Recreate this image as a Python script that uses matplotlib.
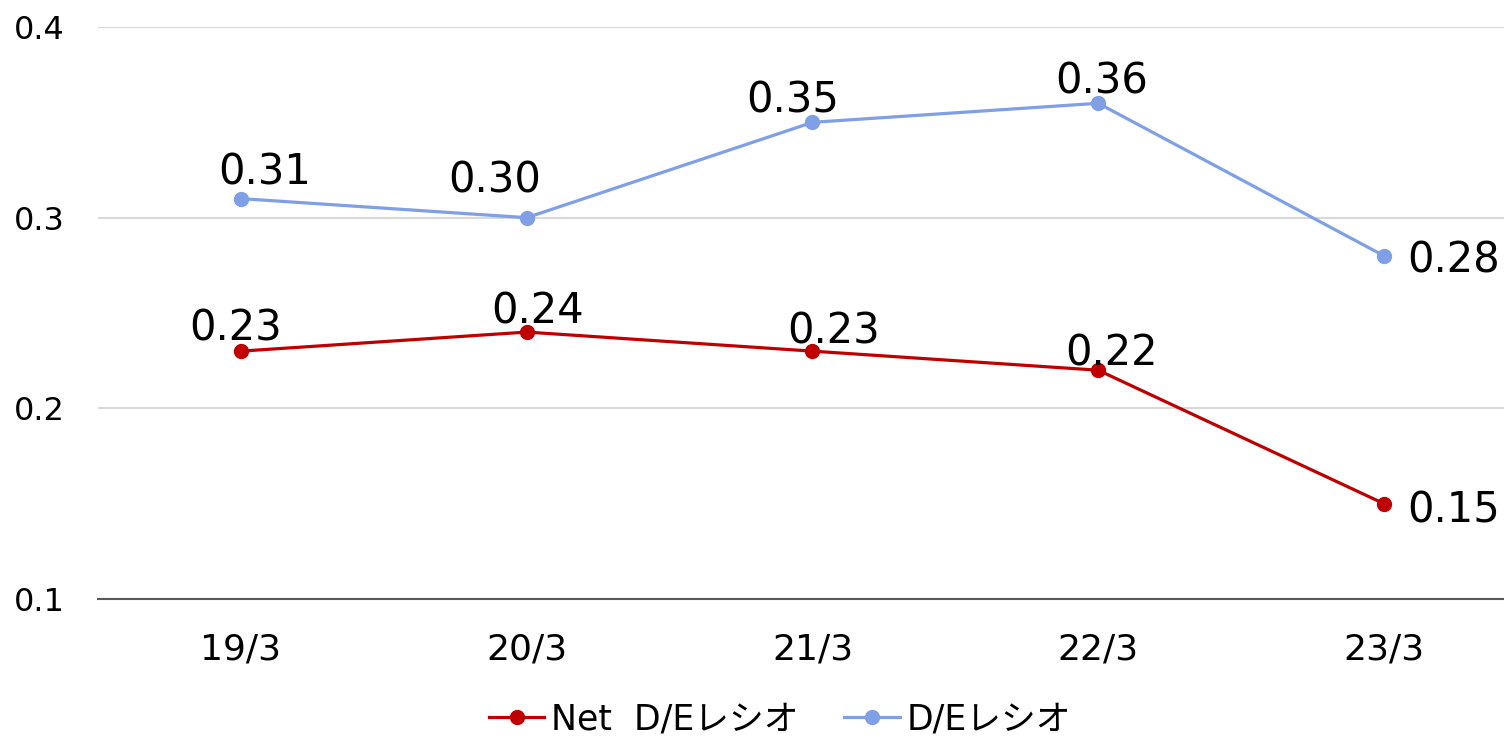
import matplotlib.pyplot as plt

plt.rcParams["font.family"] = ["DejaVu Sans", "Noto Sans CJK JP"]

periods = ["19/3", "20/3", "21/3", "22/3", "23/3"]
net_de_ratio = [0.23, 0.24, 0.23, 0.22, 0.15]
de_ratio = [0.31, 0.30, 0.35, 0.36, 0.28]
y_ticks = [0.1, 0.2, 0.3, 0.4]

# hand-placed label nudges (pixels: right, up to baseline)
net_label_shift = [(-5, 11), (11, 9), (21, 8), (13, 5), (23, -19)]
de_label_shift = [(24, 14), (-32, 25), (-20, 10), (3, 10), (23, -17)]

RED = "#C00000"
BLUE = "#7F9FE6"
DPI = 100


def draw_series(ax, x, values, color, label, shifts):
    ax.plot(x, values, color=color, lw=2.3, marker="o", ms=10,
            label=label, zorder=3)
    for i, v in enumerate(values):
        dx, dy = shifts[i]
        last = i == len(values) - 1
        ax.annotate(f"{v:.2f}", (x[i], v),
                    xytext=(dx * 72 / DPI, dy * 72 / DPI),
                    textcoords="offset points",
                    ha="left" if last else "center", va="baseline",
                    fontsize=30, annotation_clip=False)


def create_plot():
    fig = plt.figure(figsize=(15.04, 7.42), dpi=DPI)
    ax = fig.add_axes([0.0652, 0.1927, 0.9348, 0.7709])
    x = list(range(len(periods)))

    draw_series(ax, x, net_de_ratio, RED, "Net  D/Eレシオ", net_label_shift)
    draw_series(ax, x, de_ratio, BLUE, "D/Eレシオ", de_label_shift)

    ax.set_xlim(-0.5, 4.42)
    ax.set_ylim(0.1, 0.4)
    ax.set_xticks(x)
    ax.set_xticklabels(periods, fontsize=26)
    ax.set_yticks(y_ticks)
    ax.set_yticklabels([f"{t:.1f}" for t in y_ticks], fontsize=23)
    ax.tick_params(axis="x", length=0, pad=24)
    ax.tick_params(axis="y", length=0, pad=24)

    ax.grid(axis="y", color="#D9D9D9", lw=1.5, zorder=0)
    for side in ["top", "right", "left"]:
        ax.spines[side].set_visible(False)
    ax.spines["bottom"].set_color("#595959")
    ax.spines["bottom"].set_linewidth(1.5)

    ax.legend(loc="center", bbox_to_anchor=(0.485, -0.21), ncol=2,
              frameon=False, fontsize=25, handlelength=1.6,
              columnspacing=1.3, handletextpad=0.2, borderaxespad=0,
              borderpad=0)

    fig.savefig("out.png", dpi=DPI)


if __name__ == "__main__":
    create_plot()
